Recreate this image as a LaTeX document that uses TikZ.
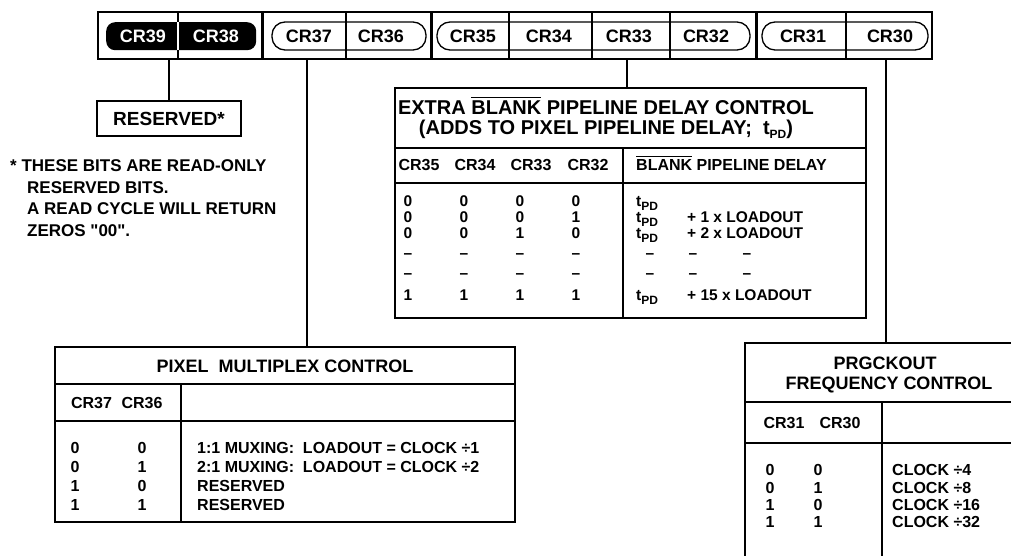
\documentclass[tikz,border=0pt]{standalone}
\usepackage{fontspec}
\setmainfont{Liberation Sans}[Ligatures=TeXOff]
\newcommand{\ovl}[1]{\leavevmode\setbox0=\hbox{#1}\rlap{\raisebox{\dimexpr\ht0+2.4pt\relax}{\rule{\wd0}{1.3pt}}}\box0\relax}
\newcommand{\tpd}{t\raisebox{-4pt}{\fontsize{12}{12}\selectfont PD}}
\tikzset{
  frame/.style={draw, line width=1.7pt, inner sep=0pt, outer sep=0pt, anchor=north west},
  conn/.style={line width=1.7pt},
  rul/.style={line width=1.7pt},
  pill/.style={line width=1.3pt, rounded corners=13pt},
  fbar/.style={inner sep=0pt, font=\bfseries\fontsize{18}{20}\selectfont, text height=12.9pt, text depth=0pt},
  fres/.style={inner sep=0pt, font=\bfseries\fontsize{19}{21}\selectfont, text height=13.6pt, text depth=0pt},
  fnote/.style={inner sep=0pt, anchor=west, font=\bfseries\fontsize{17}{19}\selectfont, text height=12.2pt, text depth=0pt},
  fxt/.style={inner sep=0pt, font=\bfseries\fontsize{20}{22}\selectfont, text height=14.3pt, text depth=0pt},
  fxh/.style={inner sep=0pt, font=\bfseries\fontsize{16}{18}\selectfont, text height=11.5pt, text depth=0pt},
  fxr/.style={inner sep=0pt, font=\bfseries\fontsize{15.5}{17}\selectfont, text height=11.1pt, text depth=0pt},
  ftit/.style={inner sep=0pt, font=\bfseries\fontsize{18}{20}\selectfont, text height=12.9pt, text depth=0pt},
  fbody/.style={inner sep=0pt, font=\bfseries\fontsize{16}{18}\selectfont, text height=11.5pt, text depth=0pt},
}
\begin{document}
\begin{tikzpicture}[x=1pt,y=-1pt]
\useasboundingbox (0,0) rectangle (1011,556);

% ---------- register bar ----------
\node[frame, line width=2.4pt, minimum width=834pt, minimum height=47pt] (bar) at (98,12) {};
\draw[line width=1.4pt] (178,12) -- (178,59);
\node[fill=black, rounded corners=9pt, inner sep=0pt, minimum width=150pt, minimum height=28pt, anchor=north west] (p1) at (106,22) {};
\draw[white, line width=1.4pt] (178,22) -- (178,50);
\draw[pill] (272,22) rectangle (426,50);
\draw[pill] (437,22) rectangle (750,50);
\draw[pill] (762,22) rectangle (928,50);
\foreach \x in {346,509,592,670,846} \draw[line width=1.8pt] (\x,12) -- (\x,59);
\foreach \x in {262,431,756} \draw[line width=3pt] (\x,12) -- (\x,59);

\node[fbar, text=white] (b39) at (143,36) {CR39};
\node[fbar, text=white] (b38) at (216,36) {CR38};
\node[fbar] (b37) at (309,36) {CR37};
\node[fbar] (b36) at (381,36) {CR36};
\node[fbar] (b35) at (473,36) {CR35};
\node[fbar] (b34) at (549,36) {CR34};
\node[fbar] (b33) at (629,36) {CR33};
\node[fbar] (b32) at (706,36) {CR32};
\node[fbar] (b31) at (803,36) {CR31};
\node[fbar] (b30) at (890,36) {CR30};

\coordinate (c39) at (169,59);
\coordinate (c37) at (307,59);
\coordinate (c33) at (627,59);
\coordinate (c30) at (886,59);

% ---------- reserved ----------
\node[draw, line width=1.8pt, minimum width=144pt, minimum height=35pt, fres] (res) at (169,118.5) {RESERVED*};
\draw[conn] (c39) -- (res.north);

\node[fnote] (n1) at (10,165) {* THESE BITS ARE READ-ONLY};
\node[fnote] (n2) at (27,187) {RESERVED BITS.};
\node[fnote] (n3) at (27,208) {A READ CYCLE WILL RETURN};
\node[fnote] (n4) at (27,230) {ZEROS "00".};

% ---------- extra blank table ----------
\node[frame, minimum width=471pt, minimum height=230pt] (xtab) at (395,88) {};
\draw[conn] (c33) -- (c33 |- xtab.north);
\draw[rul] (395,148) -- (866,148);
\draw[rul] (395,183) -- (866,183);
\draw[rul] (623,148) -- (623,318);
\node[fxt] (xt1) at (606,107) {EXTRA \ovl{BLANK} PIPELINE DELAY CONTROL};
\node[fxt] (xt2) at (606,127) {(ADDS TO PIXEL PIPELINE DELAY;\ \ \tpd)};
\node[fxh] (h35) at (419,165) {CR35};
\node[fxh] (h34) at (475,165) {CR34};
\node[fxh] (h33) at (531,165) {CR33};
\node[fxh] (h32) at (588,165) {CR32};
\node[fxh, anchor=west] (hbd) at (636,165) {\ovl{BLANK} PIPELINE DELAY};
% rows
\foreach \y/\a/\b/\c/\d [count=\i] in {201/0/0/0/0, 217/0/0/0/1, 233/0/0/1/0, 253/–/–/–/–, 273/–/–/–/–, 295/1/1/1/1}{
  \node[fxr] (xa\i) at (408,\y) {\a};
  \node[fxr] (xb\i) at (464,\y) {\b};
  \node[fxr] (xc\i) at (520,\y) {\c};
  \node[fxr] (xd\i) at (576,\y) {\d};
}
\node[fxr, anchor=west] (xe1) at (636,201) {\tpd};
\node[fxr, anchor=west] (xe2) at (636,217) {\tpd};
\node[fxr, anchor=west] (xe3) at (636,233) {\tpd};
\node[fxr, anchor=west] (xe6) at (636,295) {\tpd};
\node[fxr, anchor=west] (xf2) at (687,217) {+ 1 x LOADOUT};
\node[fxr, anchor=west] (xf3) at (687,233) {+ 2 x LOADOUT};
\node[fxr, anchor=west] (xf6) at (687,295) {+ 15 x LOADOUT};
\foreach \y [count=\i] in {253,273}{
  \node[fxr] (xg\i) at (650,\y) {–};
  \node[fxr] (xh\i) at (693,\y) {–};
  \node[fxr] (xk\i) at (747,\y) {–};
}

% ---------- pixel multiplex table ----------
\node[frame, minimum width=460pt, minimum height=175pt] (pmc) at (55,347) {};
\draw[conn] (c37) -- (c37 |- pmc.north);
\draw[rul] (55,384) -- (515,384);
\draw[rul] (55,421) -- (515,421);
\draw[rul] (181,384) -- (181,522);
\node[ftit] (pt) at (285,366) {PIXEL\ \ MULTIPLEX CONTROL};
\node[fbody] (ph1) at (91.5,403) {CR37};
\node[fbody] (ph2) at (142,403) {CR36};
\foreach \y/\a/\b/\t [count=\i] in {448/0/0/{1:1 MUXING:\ \ LOADOUT = CLOCK ÷1}, 467/0/1/{2:1 MUXING:\ \ LOADOUT = CLOCK ÷2}, 486/1/0/RESERVED, 505/1/1/RESERVED}{
  \node[fbody] (pa\i) at (75,\y) {\a};
  \node[fbody] (pb\i) at (142,\y) {\b};
  \node[fbody, anchor=west] (pc\i) at (197,\y) {\t};
}

% ---------- prgckout table ----------
\node[frame, minimum width=285pt, minimum height=222pt] (rtab) at (745,343) {};
\draw[conn] (c30) -- (c30 |- rtab.north);
\draw[rul] (745,402) -- (1030,402);
\draw[rul] (745,443) -- (1030,443);
\draw[rul] (882,402) -- (882,565);
\node[ftit] (rt1) at (885,363) {PRGCKOUT};
\node[ftit] (rt2) at (889,383) {FREQUENCY CONTROL};
\node[fbody] (rh1) at (784,423) {CR31};
\node[fbody] (rh2) at (840,423) {CR30};
\foreach \y/\a/\b/\t [count=\i] in {470/0/0/{CLOCK ÷4}, 488/0/1/{CLOCK ÷8}, 505/1/0/{CLOCK ÷16}, 522/1/1/{CLOCK ÷32}}{
  \node[fbody] (ra\i) at (770,\y) {\a};
  \node[fbody] (rb\i) at (818,\y) {\b};
  \node[fbody, anchor=west] (rc\i) at (892,\y) {\t};
}
\end{tikzpicture}
\end{document}
